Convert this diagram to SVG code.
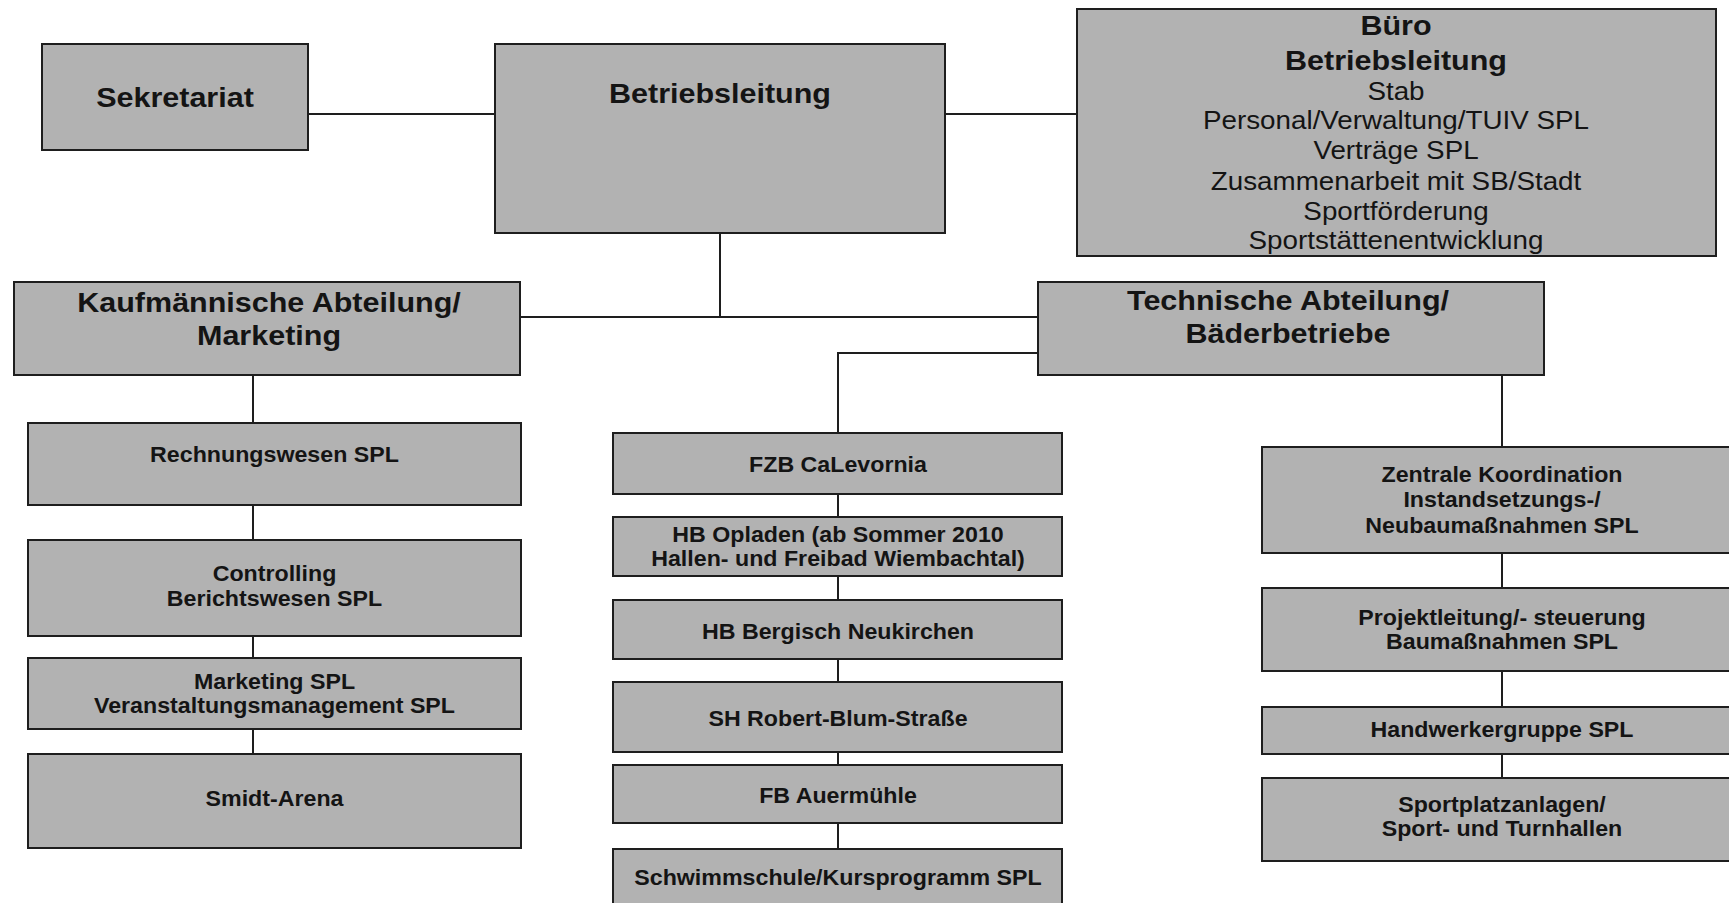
<svg xmlns="http://www.w3.org/2000/svg" width="1729" height="903" viewBox="0 0 1729 903">
<style>
.box{fill:#b2b2b2;stroke:#1e1e1e;stroke-width:2}
.con{fill:none;stroke:#1e1e1e;stroke-width:2}
text{font-family:"Liberation Sans",Arial,sans-serif;fill:#141414;text-anchor:middle}
.h{font-size:28px;font-weight:bold}
.r{font-size:25.5px}
.s{font-size:21.3px;font-weight:bold}
</style>
<rect x="0" y="0" width="1729" height="903" fill="#ffffff"/>
<g id="connectors">
<path class="con" d="M308,114 H495"/>
<path class="con" d="M945,114 H1077"/>
<path class="con" d="M720,233 V317"/>
<path class="con" d="M520,317 H1038"/>
<path class="con" d="M1038,353 H838 V433"/>
<path class="con" d="M838,494 V517 M838,576 V600 M838,659 V682 M838,752 V765 M838,823 V849"/>
<path class="con" d="M253,375 V423 M253,505 V540 M253,636 V658 M253,729 V754"/>
<path class="con" d="M1502,375 V447 M1502,553 V588 M1502,671 V707 M1502,754 V778"/>
</g>
<g id="sekretariat">
<rect class="box" x="42" y="44" width="266" height="106"/>
<text class="h" transform="translate(175 0) scale(1.09 1)" x="0" y="107">Sekretariat</text>
</g>
<g id="betriebsleitung">
<rect class="box" x="495" y="44" width="450" height="189"/>
<text class="h" transform="translate(720 0) scale(1.09 1)" x="0" y="103">Betriebsleitung</text>
</g>
<g id="buero">
<rect class="box" x="1077" y="9" width="639" height="247"/>
<g transform="translate(1396 0) scale(1.09 1)">
<text class="h" x="0" y="35">Büro</text>
<text class="h" x="0" y="70">Betriebsleitung</text>
<text class="r" x="0" y="100">Stab</text>
<text class="r" x="0" y="129">Personal/Verwaltung/TUIV SPL</text>
<text class="r" x="0" y="159">Verträge SPL</text>
<text class="r" x="0" y="190">Zusammenarbeit mit SB/Stadt</text>
<text class="r" x="0" y="220">Sportförderung</text>
<text class="r" x="0" y="249">Sportstättenentwicklung</text>
</g>
</g>
<g id="kaufmaennisch">
<rect class="box" x="14" y="282" width="506" height="93"/>
<g transform="translate(269 0) scale(1.09 1)">
<text class="h" x="0" y="312">Kaufmännische Abteilung/</text>
<text class="h" x="0" y="345">Marketing</text>
</g>
</g>
<g id="technisch">
<rect class="box" x="1038" y="282" width="506" height="93"/>
<g transform="translate(1288 0) scale(1.09 1)">
<text class="h" x="0" y="310">Technische Abteilung/</text>
<text class="h" x="0" y="343">Bäderbetriebe</text>
</g>
</g>
<g id="rechnungswesen">
<rect class="box" x="28" y="423" width="493" height="82"/>
<text class="s" transform="translate(274.5 0) scale(1.09 1)" x="0" y="462">Rechnungswesen SPL</text>
</g>
<g id="controlling">
<rect class="box" x="28" y="540" width="493" height="96"/>
<g transform="translate(274.5 0) scale(1.09 1)">
<text class="s" x="0" y="581">Controlling</text>
<text class="s" x="0" y="606">Berichtswesen SPL</text>
</g>
</g>
<g id="marketing">
<rect class="box" x="28" y="658" width="493" height="71"/>
<g transform="translate(274.5 0) scale(1.09 1)">
<text class="s" x="0" y="689">Marketing SPL</text>
<text class="s" x="0" y="713">Veranstaltungsmanagement SPL</text>
</g>
</g>
<g id="smidt">
<rect class="box" x="28" y="754" width="493" height="94"/>
<text class="s" transform="translate(274.5 0) scale(1.09 1)" x="0" y="806">Smidt-Arena</text>
</g>
<g id="fzb">
<rect class="box" x="613" y="433" width="449" height="61"/>
<text class="s" transform="translate(838 0) scale(1.09 1)" x="0" y="472">FZB CaLevornia</text>
</g>
<g id="opladen">
<rect class="box" x="613" y="517" width="449" height="59"/>
<g transform="translate(838 0) scale(1.09 1)">
<text class="s" x="0" y="542">HB Opladen (ab Sommer 2010</text>
<text class="s" x="0" y="566">Hallen- und Freibad Wiembachtal)</text>
</g>
</g>
<g id="bergisch">
<rect class="box" x="613" y="600" width="449" height="59"/>
<text class="s" transform="translate(838 0) scale(1.09 1)" x="0" y="639">HB Bergisch Neukirchen</text>
</g>
<g id="robertblum">
<rect class="box" x="613" y="682" width="449" height="70"/>
<text class="s" transform="translate(838 0) scale(1.09 1)" x="0" y="726">SH Robert-Blum-Straße</text>
</g>
<g id="auermuehle">
<rect class="box" x="613" y="765" width="449" height="58"/>
<text class="s" transform="translate(838 0) scale(1.09 1)" x="0" y="803">FB Auermühle</text>
</g>
<g id="schwimmschule">
<rect class="box" x="613" y="849" width="449" height="80"/>
<text class="s" transform="translate(838 0) scale(1.09 1)" x="0" y="885">Schwimmschule/Kursprogramm SPL</text>
</g>
<g id="zentrale">
<rect class="box" x="1262" y="447" width="480" height="106"/>
<g transform="translate(1502 0) scale(1.09 1)">
<text class="s" x="0" y="482">Zentrale Koordination</text>
<text class="s" x="0" y="507">Instandsetzungs-/</text>
<text class="s" x="0" y="533">Neubaumaßnahmen SPL</text>
</g>
</g>
<g id="projektleitung">
<rect class="box" x="1262" y="588" width="480" height="83"/>
<g transform="translate(1502 0) scale(1.09 1)">
<text class="s" x="0" y="625">Projektleitung/- steuerung</text>
<text class="s" x="0" y="649">Baumaßnahmen SPL</text>
</g>
</g>
<g id="handwerker">
<rect class="box" x="1262" y="707" width="480" height="47"/>
<text class="s" transform="translate(1502 0) scale(1.09 1)" x="0" y="737">Handwerkergruppe SPL</text>
</g>
<g id="sportplatz">
<rect class="box" x="1262" y="778" width="480" height="83"/>
<g transform="translate(1502 0) scale(1.09 1)">
<text class="s" x="0" y="812">Sportplatzanlagen/</text>
<text class="s" x="0" y="836">Sport- und Turnhallen</text>
</g>
</g>
</svg>
